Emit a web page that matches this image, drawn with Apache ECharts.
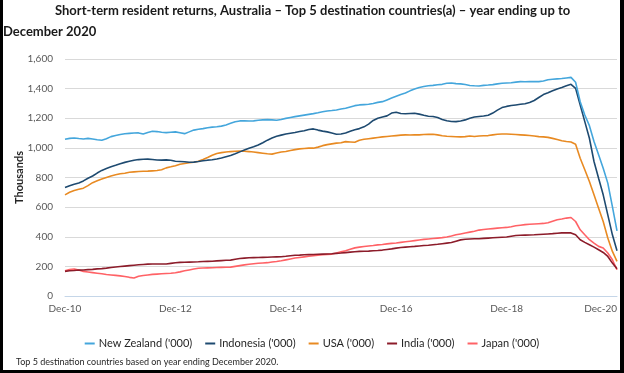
<!DOCTYPE html>
<html>
<head>
<meta charset="utf-8">
<script src="https://cdn.jsdelivr.net/npm/echarts@6/dist/echarts.min.js"></script>
<style>
html,body{margin:0;padding:0;background:#fff;}
#c{width:624px;height:373px;}
</style>
</head>
<body>
<div id="c"></div>
<script>
// Monthly, Dec-10 .. Dec-20 (121 months)
const startYear = 2010;
const tickLabels = ["Dec-10","Dec-12","Dec-14","Dec-16","Dec-18","Dec-20"];
const monthNames = ["Jan","Feb","Mar","Apr","May","Jun","Jul","Aug","Sep","Oct","Nov","Dec"];

const newZealand = [1058,1064,1067,1063,1060,1064,1060,1055,1051,1062,1076,1084,1090,1095,1098,1100,1101,1094,1104,1112,1110,1105,1103,1106,1108,1102,1096,1108,1120,1126,1130,1136,1140,1143,1147,1155,1166,1176,1182,1183,1181,1182,1186,1189,1191,1189,1186,1192,1199,1205,1211,1216,1221,1226,1231,1237,1244,1249,1252,1256,1262,1267,1276,1285,1290,1292,1294,1300,1307,1312,1324,1336,1348,1360,1370,1385,1398,1408,1414,1419,1422,1426,1429,1436,1438,1434,1432,1428,1421,1419,1418,1422,1424,1427,1432,1436,1438,1440,1444,1447,1446,1447,1448,1447,1452,1460,1463,1466,1468,1472,1476,1443,1312,1222,1150,1043,953,863,762,604,440];

const indonesia = [733,745,755,763,777,795,810,830,848,860,872,882,893,902,910,917,921,923,924,922,918,917,919,916,910,908,906,903,904,908,913,917,920,925,932,940,948,960,973,985,997,1008,1020,1035,1052,1067,1078,1086,1094,1099,1104,1110,1116,1124,1128,1120,1113,1108,1100,1092,1094,1100,1112,1122,1130,1142,1160,1185,1200,1208,1216,1235,1240,1232,1230,1232,1234,1228,1220,1214,1212,1205,1192,1183,1178,1177,1182,1189,1200,1208,1212,1215,1220,1235,1255,1272,1280,1286,1290,1294,1298,1306,1320,1340,1360,1372,1385,1398,1408,1420,1429,1402,1290,1177,1065,908,795,683,548,413,306];

const usa = [683,700,712,720,728,745,765,778,790,800,810,818,825,829,835,838,841,842,843,845,847,852,865,872,880,890,895,900,903,910,922,935,950,962,968,972,975,977,978,977,975,972,968,964,960,958,965,972,975,982,988,993,996,998,998,1005,1015,1022,1027,1032,1035,1042,1040,1038,1052,1058,1062,1066,1070,1074,1077,1080,1083,1086,1088,1087,1089,1088,1090,1091,1092,1088,1082,1078,1077,1075,1074,1076,1080,1077,1080,1082,1083,1088,1092,1094,1094,1092,1090,1088,1086,1084,1080,1076,1074,1071,1064,1056,1048,1043,1040,1025,930,852,773,683,593,503,391,301,234];

const india = [166,170,172,175,176,178,180,183,185,188,192,196,199,202,205,208,211,213,215,216,216,216,216,220,224,227,228,229,230,231,233,234,235,237,239,241,242,248,253,256,258,259,260,261,262,263,264,265,268,272,275,276,278,279,280,282,283,284,285,288,290,293,296,299,301,302,303,305,307,310,314,318,323,327,330,333,335,338,341,343,346,349,353,357,361,370,379,383,385,386,387,389,391,393,395,397,398,403,408,410,411,412,413,415,417,419,421,424,426,427,426,413,380,362,346,330,312,294,267,222,184];

const japan = [171,178,182,175,166,162,158,154,150,145,142,139,136,132,126,121,133,138,142,146,148,150,152,154,157,163,170,176,182,187,189,190,191,192,193,194,195,200,205,210,214,218,221,223,225,229,233,238,244,250,256,260,264,268,272,275,278,281,283,290,298,306,316,325,330,334,338,341,345,348,352,355,358,362,366,370,374,378,382,385,388,391,394,398,405,413,419,425,431,437,445,449,452,455,458,461,463,468,474,478,482,484,486,488,490,494,505,515,520,526,530,503,447,413,380,357,335,324,290,245,177];

const seriesNames = ["New Zealand ('000)","Indonesia ('000)","USA ('000)","India ('000)","Japan ('000)"];
const seriesColors = ["#44a6dc","#1e4a70","#e88a22","#8c1c2a","#ff6266"];
const seriesData = [newZealand, indonesia, usa, india, japan];

// Build month category labels Dec-10 .. Dec-20
const categories = [];
for (let i = 0; i < newZealand.length; i++) {
  const mIdx = (11 + i) % 12;
  const yr = startYear + Math.floor((11 + i) / 12);
  categories.push(monthNames[mIdx] + "-" + String(yr).slice(2));
}

const chart = echarts.init(document.getElementById('c'), null, {renderer:'canvas'});
const FONT = 'Lato';
chart.setOption({
  backgroundColor: '#ffffff',
  animation: false,
  title: [
    {text: 'Short-term resident returns, Australia \u2013 Top 5 destination countries(a) \u2013 year ending up to',
     left: 55, top: 4, padding: 0,
     textStyle: {fontFamily: FONT, fontSize: 13, fontWeight: 'bold', color: '#1a1a1a'}},
    {text: 'December 2020', left: 3, top: 25, padding: 0,
     textStyle: {fontFamily: FONT, fontSize: 13, fontWeight: 'bold', color: '#1a1a1a'}},
    {text: 'Top 5 destination countries based on year ending December 2020.', left: 16, top: 358, padding: 0,
     textStyle: {fontFamily: FONT, fontSize: 9, fontWeight: 'normal', color: '#262626'}}
  ],
  legend: {
    left: 'center', top: 333,
    itemWidth: 10, itemHeight: 2, itemGap: 13, icon: 'rect',
    textStyle: {fontFamily: FONT, fontSize: 11, color: '#262626', padding: [0,0,0,-1]},
    data: seriesNames
  },
  grid: {left: 65, right: 7, top: 59, bottom: 77, containLabel: false},
  xAxis: {
    type: 'category', data: categories, boundaryGap: false,
    axisLine: {show: true, lineStyle: {color: '#c5d6e8', width: 1}},
    axisTick: {show: false},
    axisLabel: {
      interval: function (idx, val) { return tickLabels.indexOf(val) >= 0; },
      color: '#595959', fontFamily: FONT, fontSize: 10, margin: 8,
      showMaxLabel: true, alignMaxLabel: 'right'
    },
    splitLine: {show: false}
  },
  yAxis: {
    type: 'value', min: 0, max: 1600, interval: 200,
    name: 'Thousands', nameLocation: 'middle', nameRotate: 90, nameGap: 40,
    nameMoveOverlap: false,
    nameTextStyle: {fontFamily: FONT, fontSize: 11, fontWeight: 'bold', color: '#262626'},
    axisLine: {show: false}, axisTick: {show: false},
    axisLabel: {
      color: '#595959', fontFamily: FONT, fontSize: 10, margin: 12,
      formatter: function (v) { return v.toLocaleString('en-US'); }
    },
    splitLine: {lineStyle: {color: '#d9d9d9', width: 1}}
  },
  series: seriesNames.map((n, i) => ({
    name: n, type: 'line', data: seriesData[i], showSymbol: false, symbol: 'none',
    lineStyle: {color: seriesColors[i], width: 1.6},
    itemStyle: {color: seriesColors[i]},
    z: 5 - i
  })),
  graphic: [
    {type: 'rect', shape: {x: 0, y: 0, width: 3, height: 373}, style: {fill: '#000'}},
    {type: 'rect', shape: {x: 620, y: 0, width: 4, height: 373}, style: {fill: '#000'}},
    {type: 'rect', shape: {x: 0, y: 370, width: 624, height: 3}, style: {fill: '#000'}}
  ]
});
</script>
</body>
</html>
